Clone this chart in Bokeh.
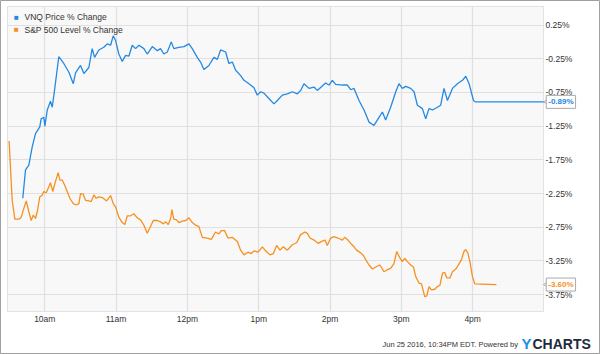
import math
from bokeh.plotting import figure
from bokeh.models import Range1d, FixedTicker, Label, BoxAnnotation
from bokeh.embed import file_html
from bokeh.resources import INLINE

# minutes after 9:30am, % change
vnq_min = [11.5, 13.8, 16.6, 19.4, 22.2, 25.8, 27.0, 29.2, 30.1, 32.1, 34.8, 36.3, 38.2, 41.8,
           46.0, 50.3, 54.0, 55.9, 60.1, 62.9, 67.1, 69.9, 71.9, 75.5, 79.7, 82.6, 85.4, 87.6,
           89.6, 92.3, 95.2, 98.0, 100.8, 103.6, 106.4, 109.2, 113.4, 116.2, 120.5, 124.7,
           127.4, 130.2, 133.1, 136.4, 138.6, 142.8, 147.1, 151.3, 154.1, 158.3, 161.1, 163.9,
           168.1, 172.3, 175.2, 177.9, 182.2, 184.9, 187.8, 190.6, 194.8, 197.6, 201.8, 206.0,
           208.8, 211.6, 214.4, 218.6, 222.8, 225.7, 229.9, 234.1, 238.3, 242.5, 245.3, 248.1,
           252.3, 256.5, 259.3, 266.3, 269.1, 272.0, 274.7, 280.4, 284.6, 287.4, 290.2, 294.4,
           298.6, 302.8, 307.0, 311.2, 314.1, 316.8, 321.0, 325.3, 328.0, 330.9, 333.7, 337.9,
           340.7, 343.5, 347.7, 350.5, 353.3, 356.2, 360.4, 363.1, 365.9, 368.8, 373.0, 377.2,
           381.4, 384.2, 387.0, 390.7, 392.0, 450.0]
vnq_pct = [-2.32, -1.90, -1.83, -1.56, -1.36, -1.26, -1.14, -1.12, -1.25, -1.01, -0.88, -0.97,
           -0.72, -0.22, -0.32, -0.45, -0.62, -0.46, -0.35, -0.47, -0.38, -0.10, -0.23, -0.12,
           -0.08, -0.03, -0.05, 0.09, 0.02, -0.18, -0.29, -0.20, -0.21, -0.05, -0.10, -0.05,
           -0.10, -0.18, -0.07, -0.13, -0.10, -0.18, -0.15, 0.00, -0.10, -0.08, -0.07, -0.03,
           -0.10, -0.23, -0.30, -0.41, -0.35, -0.23, -0.26, -0.12, -0.15, -0.32, -0.30, -0.42,
           -0.50, -0.57, -0.62, -0.68, -0.79, -0.74, -0.76, -0.84, -0.92, -0.87, -0.79, -0.77,
           -0.74, -0.77, -0.72, -0.62, -0.69, -0.67, -0.72, -0.61, -0.64, -0.57, -0.63, -0.64,
           -0.64, -0.71, -0.69, -0.87, -1.01, -1.19, -1.24, -1.12, -1.04, -1.16, -0.97, -0.74,
           -0.62, -0.69, -0.66, -0.69, -0.74, -0.94, -0.99, -1.14, -0.99, -1.01, -0.97, -0.94,
           -0.69, -0.87, -0.69, -0.62, -0.57, -0.51, -0.62, -0.87, -0.89, -0.89]

spx_min = [0.0, 2.6, 4.8, 8.2, 10.2, 12.4, 14.4, 16.6, 18.6, 20.3, 22.2, 23.7, 25.8, 27.9, 29.2,
           31.2, 32.9, 34.8, 36.8, 38.5, 41.3, 42.7, 44.7, 46.6, 48.9, 51.1, 54.0, 56.7, 58.7,
           60.1, 62.4, 64.3, 67.1, 69.1, 71.3, 73.3, 75.5, 78.4, 82.0, 85.4, 87.6, 89.6, 92.3,
           95.2, 97.4, 99.4, 102.2, 105.0, 107.8, 110.6, 113.4, 116.2, 119.0, 121.3, 124.7,
           127.4, 129.7, 131.6, 133.9, 135.9, 137.0, 138.6, 140.9, 142.8, 145.7, 148.5, 151.3,
           154.1, 156.9, 159.7, 162.5, 166.7, 170.1, 173.7, 176.5, 178.5, 181.3, 184.1, 187.8,
           192.0, 194.8, 197.6, 200.9, 203.8, 206.0, 209.4, 213.1, 215.8, 219.4, 222.3, 225.1,
           227.9, 230.7, 234.1, 238.3, 241.9, 245.3, 248.9, 250.9, 253.1, 256.5, 260.2, 263.0,
           265.7, 267.7, 270.5, 273.3, 276.7, 280.4, 282.3, 285.1, 287.4, 290.2, 292.4, 295.8,
           298.1, 300.0, 302.8, 305.7, 308.4, 312.0, 315.4, 318.3, 321.0, 323.8, 326.1, 328.9,
           330.9, 332.8, 335.1, 337.9, 340.2, 342.1, 344.9, 346.9, 349.7, 351.4, 353.3, 355.3,
           358.1, 360.4, 362.5, 364.6, 366.5, 368.2, 371.0, 373.0, 375.8, 377.7, 380.6, 382.7,
           384.2, 386.1, 387.8, 389.8, 391.8, 410.0]
spx_pct = [-1.47, -2.35, -2.63, -2.63, -2.60, -2.47, -2.36, -2.52, -2.65, -2.57, -2.62, -2.52,
           -2.30, -2.27, -2.22, -2.24, -2.17, -2.09, -2.22, -2.10, -1.94, -2.05, -2.05, -2.12,
           -2.22, -2.32, -2.40, -2.42, -2.40, -2.25, -2.26, -2.35, -2.36, -2.37, -2.27, -2.32,
           -2.30, -2.31, -2.36, -2.28, -2.40, -2.45, -2.60, -2.68, -2.71, -2.58, -2.58, -2.55,
           -2.61, -2.64, -2.72, -2.84, -2.74, -2.65, -2.65, -2.67, -2.70, -2.67, -2.71, -2.62,
           -2.49, -2.63, -2.64, -2.68, -2.66, -2.65, -2.61, -2.68, -2.72, -2.74, -2.90, -2.91,
           -2.93, -2.82, -2.85, -2.80, -2.80, -2.91, -2.90, -2.96, -3.09, -3.16, -3.12, -3.14,
           -3.10, -3.12, -3.04, -3.10, -3.16, -3.14, -3.02, -3.09, -3.04, -3.09, -3.01, -2.98,
           -2.86, -2.82, -2.84, -2.91, -2.94, -2.99, -2.96, -2.94, -3.02, -2.91, -2.89, -2.91,
           -2.94, -2.90, -2.94, -2.99, -3.04, -3.09, -3.13, -3.17, -3.23, -3.31, -3.37, -3.34,
           -3.31, -3.41, -3.38, -3.36, -3.29, -3.11, -3.21, -3.26, -3.21, -3.26, -3.31, -3.34,
           -3.48, -3.58, -3.59, -3.78, -3.77, -3.63, -3.68, -3.67, -3.63, -3.61, -3.43, -3.42,
           -3.50, -3.50, -3.41, -3.37, -3.32, -3.23, -3.11, -3.08, -3.14, -3.27, -3.48, -3.59,
           -3.60]

x_tick_min = [30, 90, 150, 210, 270, 330, 390]
x_tick_labels = ["10am", "11am", "12pm", "1pm", "2pm", "3pm", "4pm"]
y_ticks = [0.25, -0.25, -0.75, -1.25, -1.75, -2.25, -2.75, -3.25, -3.75]
y_tick_labels = ["0.25%", "-0.25%", "-0.75%", "-1.25%", "-1.75%", "-2.25%", "-2.75%", "-3.25%", "-3.75%"]
series_names = ["VNQ Price % Change", "S&P 500 Level % Change"]
last_values = [-0.89, -3.60]
last_labels = ["-0.89%", "-3.60%"]
footer_text = "Jun 25 2016, 10:34PM EDT. Powered by"

# plot-area extent (data units) and outer canvas extent
X0, X1 = -1.35, 449.6
Y0, Y1 = -4.0, 0.525
CX0, CX1 = -7.24, 497.56
CY0, CY1 = -4.638, 0.614

BLUE = "#2389e3"
ORANGE = "#f7901e"
FONT = "Liberation Sans"
H = 354

p = figure(width=600, height=H, output_backend="svg", toolbar_location=None,
           x_range=Range1d(CX0, CX1), y_range=Range1d(CY0, CY1),
           x_axis_location="below", y_axis_location="right",
           min_border=0, min_border_left=0, min_border_right=0,
           min_border_top=0, min_border_bottom=0)
p.background_fill_color = "white"
p.border_fill_color = "white"
p.outline_line_color = "#a0a0a0"
p.outline_line_width = 1

# plot area
p.add_layout(BoxAnnotation(left=X0, right=X1, bottom=Y0, top=Y1,
                           fill_color="#f8f8f8", fill_alpha=1.0,
                           line_color="#a8a8a8", line_width=1, level="image"))

p.xaxis.fixed_location = Y0
p.yaxis.fixed_location = X1
p.xaxis.ticker = FixedTicker(ticks=x_tick_min)
p.xaxis.major_label_overrides = dict(zip(x_tick_min, x_tick_labels))
p.yaxis.ticker = FixedTicker(ticks=y_ticks)
p.yaxis.major_label_overrides = dict(zip(y_ticks, y_tick_labels))
for ax in (p.xaxis, p.yaxis):
    ax.axis_line_color = None
    ax.major_tick_line_color = None
    ax.minor_tick_line_color = None
    ax.major_tick_out = 0
    ax.major_tick_in = 0
    ax.minor_tick_out = 0
    ax.minor_tick_in = 0
    ax.major_label_text_font_size = "8.5px"
    ax.major_label_text_font = FONT
    ax.major_label_text_color = "#333333"
p.xaxis.major_label_standoff = 3
p.yaxis.major_label_standoff = 2
p.yaxis.major_label_text_align = "left"

p.xgrid.ticker = FixedTicker(ticks=x_tick_min)
p.ygrid.ticker = FixedTicker(ticks=y_ticks)
p.xgrid.bounds = (X0, X1)
p.ygrid.bounds = (Y0, Y1)
p.xgrid.cross_bounds = (Y0, Y1)
p.ygrid.cross_bounds = (X0, X1)
p.grid.grid_line_color = "#e0e0e0"
p.grid.grid_line_width = 1.2

p.line(vnq_min, vnq_pct, color=BLUE, line_width=1.3)
p.line(spx_min, spx_pct, color=ORANGE, line_width=1.3)

# legend (screen px; y measured from the bottom)
legend_rows = [(16.5, BLUE), (29.3, ORANGE)]
for (ty, col), name in zip(legend_rows, series_names):
    p.add_layout(Label(x=16, y=H - ty, x_units="screen", y_units="screen", text="\u25A0",
                       text_font=FONT, text_font_size="8px", text_color=col,
                       text_align="center", text_baseline="middle"))
    p.add_layout(Label(x=24, y=H - ty, x_units="screen", y_units="screen", text=name,
                       text_font=FONT, text_font_size="8.5px", text_color="#333333",
                       text_align="left", text_baseline="middle"))

# last-value tags with a small pointer
p.scatter(x=[X1 + 2.9] * len(last_values), y=last_values, marker="triangle",
          angle=math.pi / 2, size=6, fill_color="white", line_color="#aaaaaa",
          line_width=1)
for val, txt, col in zip(last_values, last_labels, [BLUE, ORANGE]):
    p.add_layout(Label(x=X1 + 2.3, y=val, text=txt, text_color=col, text_font_size="8px",
                       text_font_style="bold", text_font=FONT, text_baseline="middle",
                       background_fill_color="white", border_line_color="#aaaaaa",
                       padding=2))

# footer
footer_specs = [(382, 10, footer_text, "7.5px", "normal", "#333333"),
                (521, 11, "Y", "15px", "bold", "#1a8fe3"),
                (532, 11, "CHARTS", "14px", "bold", "#1c2b3c")]
for fx, fy, ftxt, fsize, fstyle, fcol in footer_specs:
    p.add_layout(Label(x=fx, y=fy, x_units="screen", y_units="screen", text=ftxt,
                       text_font_size=fsize, text_font_style=fstyle, text_font=FONT,
                       text_color=fcol, text_baseline="middle"))

open("out.html", "w").write(file_html(p, INLINE))
